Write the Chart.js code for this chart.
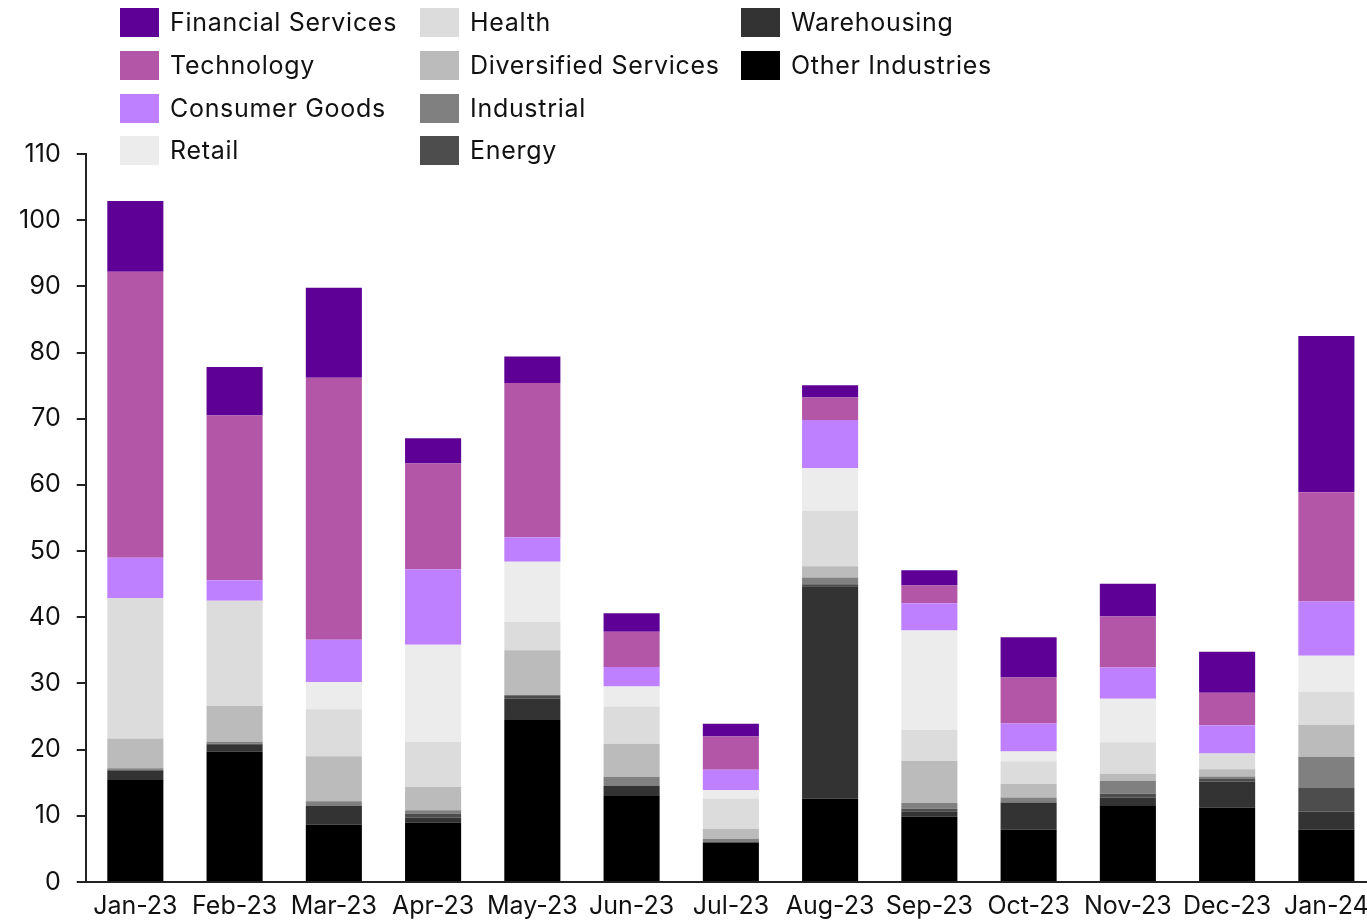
<!DOCTYPE html>
<html>
<head>
<meta charset="utf-8">
<script src="https://cdn.jsdelivr.net/npm/chart.js@4"></script>
<style>
  html, body { margin: 0; padding: 0; background: #fff; overflow: hidden; }
  #wrap { position: relative; width: 1367px; height: 921px; overflow: hidden; }
  #chart { position: absolute; left: 0; top: 0; }
  #legend { position: absolute; left: 0; top: 0; z-index: 2; font-family: Inter, sans-serif; font-size: 25px; letter-spacing: 0.7px; color: #111; }
  .item { position: absolute; height: 29px; line-height: 29px; white-space: nowrap; }
  .box { position: absolute; left: 0; top: 0; width: 39px; height: 29px; }
  .lbl { position: absolute; left: 50px; top: 0; }
</style>
</head>
<body>
<div id="wrap">
  <canvas id="chart" width="1400" height="924"></canvas>
  <div id="legend"></div>
</div>
<script>
const months = ["Jan-23", "Feb-23", "Mar-23", "Apr-23", "May-23", "Jun-23", "Jul-23",
                "Aug-23", "Sep-23", "Oct-23", "Nov-23", "Dec-23", "Jan-24"];

// stacked from the bottom up
const otherIndustries     = [15.4, 19.7, 8.7, 9.0, 24.6, 13.1, 5.95, 12.6, 9.9, 7.9, 11.6, 11.25, 7.9];
const warehousing         = [1.4, 1.1, 2.8, 0.75, 3.1, 1.4, 0, 32.1, 0.7, 4.1, 1.15, 3.95, 2.75];
const energy              = [0.2, 0.1, 0, 0.6, 0.5, 0, 0.1, 0.3, 0.45, 0, 0.6, 0.35, 3.55];
const industrial          = [0.2, 0.3, 0.7, 0.5, 0, 1.4, 0.5, 1.0, 0.9, 0.75, 1.95, 0.4, 4.7];
const diversifiedServices = [4.5, 5.4, 6.8, 3.5, 6.8, 5.0, 1.5, 1.7, 6.35, 2.05, 1.05, 1.1, 4.85];
const health              = [21.2, 15.9, 7.1, 6.8, 4.3, 5.6, 4.55, 8.4, 4.7, 3.45, 4.75, 2.35, 5.0];
const retail              = [0, 0, 4.1, 14.7, 9.1, 3.05, 1.3, 6.4, 15.0, 1.45, 6.6, 0, 5.45];
const consumerGoods       = [6.1, 3.1, 6.4, 11.4, 3.7, 2.95, 3.05, 7.3, 4.1, 4.25, 4.7, 4.3, 8.2];
const technology          = [43.2, 24.9, 39.6, 16.0, 23.3, 5.3, 5.05, 3.4, 2.7, 6.95, 7.7, 4.9, 16.5];
const financialServices   = [10.7, 7.3, 13.6, 3.8, 4.0, 2.8, 1.9, 1.85, 2.3, 6.1, 4.95, 6.2, 23.6];

const yTicks = [0, 10, 20, 30, 40, 50, 60, 70, 80, 90, 100, 110];

const series = [
  { label: "Other Industries", data: otherIndustries, color: "#000000" },
  { label: "Warehousing", data: warehousing, color: "#333333" },
  { label: "Energy", data: energy, color: "#4d4d4d" },
  { label: "Industrial", data: industrial, color: "#808080" },
  { label: "Diversified Services", data: diversifiedServices, color: "#bbbbbb" },
  { label: "Health", data: health, color: "#dcdcdc" },
  { label: "Retail", data: retail, color: "#ececec" },
  { label: "Consumer Goods", data: consumerGoods, color: "#bf80ff" },
  { label: "Technology", data: technology, color: "#b356a8" },
  { label: "Financial Services", data: financialServices, color: "#5e0096" }
];

const font = { family: "Inter, sans-serif", size: 25 };

new Chart(document.getElementById("chart"), {
  type: "bar",
  data: {
    labels: months,
    datasets: series.map(s => ({
      label: s.label,
      data: s.data,
      backgroundColor: s.color,
      borderWidth: 0,
      categoryPercentage: 1,
      barPercentage: 0.565
    }))
  },
  options: {
    responsive: false,
    animation: false,
    layout: { padding: { top: 154, left: 3, right: 24, bottom: 2 } },
    plugins: { legend: { display: false }, tooltip: { enabled: false } },
    scales: {
      x: {
        stacked: true,
        grid: { display: false },
        border: { display: true, color: "#222", width: 2 },
        ticks: { color: "#111", font: font, padding: 1, maxRotation: 0, autoSkip: false }
      },
      y: {
        stacked: true,
        min: 0,
        max: 110,
        afterBuildTicks: axis => { axis.ticks = yTicks.map(v => ({ value: v })); },
        grid: { drawOnChartArea: false, drawTicks: true, tickLength: 9, color: "#222", lineWidth: 2 },
        border: { display: true, color: "#222", width: 2 },
        ticks: { color: "#111", font: font, padding: 16 }
      }
    }
  }
});

// legend: 4 rows, filled column by column, top of stack first
const legend = document.getElementById("legend");
const colX = [120, 420, 741];
const rowY = [8, 51, 94, 136];
series.slice().reverse().forEach((s, i) => {
  const item = document.createElement("div");
  item.className = "item";
  item.style.left = colX[Math.floor(i / 4)] + "px";
  item.style.top = rowY[i % 4] + "px";
  item.innerHTML = '<span class="box" style="background:' + s.color + '"></span><span class="lbl">' + s.label + '</span>';
  legend.appendChild(item);
});
</script>
</body>
</html>
